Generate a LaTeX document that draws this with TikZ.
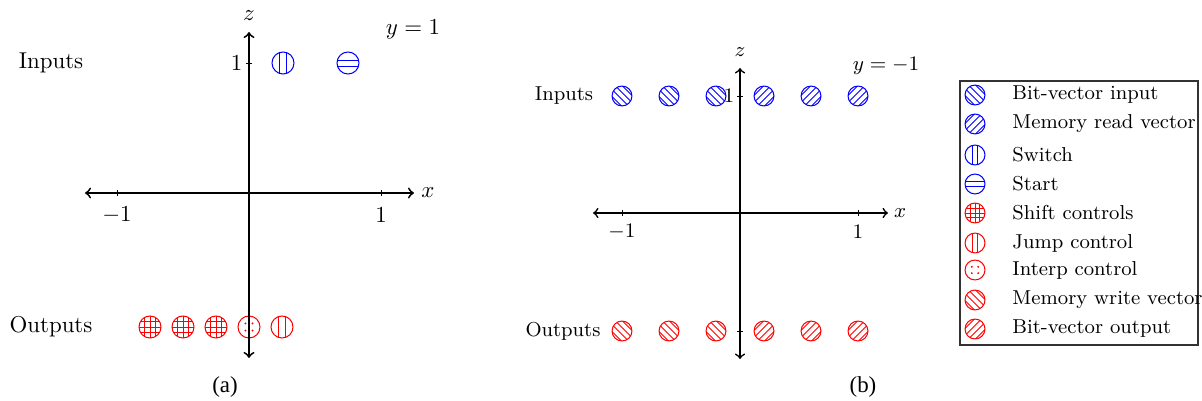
\documentclass[tikz,border=0pt]{standalone}
\usepackage{fontspec}
\newfontfamily\capfont{Liberation Serif}
\newcommand\smallerfont{\fontsize{8.8}{10.5}\selectfont}
\tikzset{
  mk/.style={circle,inner sep=0pt,minimum size=#1,line width=0.45pt},
  mka/.style={mk=9.6pt,/utils/exec={\def\rr{4.8pt}}},
  mkb/.style={mk=8.7pt,/utils/exec={\def\rr{4.35pt}}},
  inb/.style={draw=blue,/utils/exec={\def\sc{blue}}},
  outr/.style={draw=red,/utils/exec={\def\sc{red}}},
  pv/.style={path picture={
    \foreach \f in {-0.29,0.29}
      \draw[draw=\sc,line width=0.4pt] ([xshift=\f*\rr]path picture bounding box.north) -- ([xshift=\f*\rr]path picture bounding box.south);}},
  ph/.style={path picture={
    \foreach \f in {-0.27,0.27}
      \draw[draw=\sc,line width=0.4pt] ([yshift=\f*\rr]path picture bounding box.west) -- ([yshift=\f*\rr]path picture bounding box.east);}},
  pg/.style={path picture={
    \foreach \f in {-0.48,0,0.48}{
      \draw[draw=\sc,line width=0.4pt] ([xshift=\f*\rr]path picture bounding box.north) -- ([xshift=\f*\rr]path picture bounding box.south);
      \draw[draw=\sc,line width=0.4pt] ([yshift=\f*\rr]path picture bounding box.west) -- ([yshift=\f*\rr]path picture bounding box.east);}}},
  pd/.style={path picture={
    \foreach \fx in {-0.32,0.32}
      \foreach \fy in {-0.32,0.32}
        \fill[fill=\sc] ([xshift=\fx*\rr,yshift=\fy*\rr]path picture bounding box.center) circle[radius=0.45pt];}},
  pne/.style={path picture={
    \foreach \f in {-0.75,-0.25,0.25,0.75}
      \draw[draw=\sc,line width=0.4pt]
        ([xshift=\f*0.7071*\rr-\rr,yshift=-\f*0.7071*\rr-\rr]path picture bounding box.center) --
        ([xshift=\f*0.7071*\rr+\rr,yshift=-\f*0.7071*\rr+\rr]path picture bounding box.center);}},
  pnw/.style={path picture={
    \foreach \f in {-0.75,-0.25,0.25,0.75}
      \draw[draw=\sc,line width=0.4pt]
        ([xshift=\f*0.7071*\rr-\rr,yshift=\f*0.7071*\rr+\rr]path picture bounding box.center) --
        ([xshift=\f*0.7071*\rr+\rr,yshift=\f*0.7071*\rr-\rr]path picture bounding box.center);}},
  axa/.style={<->,line width=0.8pt},
  axb/.style={<->,line width=0.7pt},
  tk/.style={line width=0.4pt},
  lbl/.style={inner sep=1pt},
}
\begin{document}
\begin{tikzpicture}[x=0.4366pt,y=-0.4366pt]
\useasboundingbox[fill=white] (0,0) rectangle (1202,401);
% ---------------- panel (a) ----------------
\node[mka,inb,pv] (sw) at (283,63) {};
\node[mka,inb,ph] (st) at (348,63) {};
\node[mka,outr,pg] (sc1) at (150,327) {};
\node[mka,outr,pg] (sc2) at (183,327) {};
\node[mka,outr,pg] (sc3) at (216,327) {};
\node[mka,outr,pd] (ic) at (249,327) {};
\node[mka,outr,pv] (jc) at (282,327) {};
\coordinate (axL) at (85,193);
\coordinate (axR) at (414,193);
\coordinate (azB) at (249,358);
\coordinate (azT) at (249,32);
\draw[axa] (axL) -- (axR);
\draw[axa] (azB) -- (azT);
\draw[tk] (117,190) -- (117,196);
\draw[tk] (381,190) -- (381,196);
\draw[tk] (246,63) -- (252,63);
\node[lbl] (xm1a) at (117,215) {$-1$};
\node[lbl] (xp1a) at (381,215) {$1$};
\node[lbl,anchor=east] (zp1a) at (245,63) {$1$};
\node[lbl] (xla) at (428,193) {$x$};
\node[lbl] (zla) at (249,16) {$z$};
\node[lbl] (ya) at (413,29) {$y=1$};
\node[lbl] (ina) at (51,63) {Inputs};
\node[lbl] (outa) at (51,327) {Outputs};
\node[lbl] (capa) at (225,387) {\capfont (a)};
% ---------------- panel (b) ----------------
\foreach \xx/\nm in {622/i1,669/i2,716/i3}{
  \node[mkb,inb,pnw] (\nm) at (\xx,96) {};
  \node[mkb,outr,pnw] (o\nm) at (\xx,331) {};
}
\foreach \xx/\nm in {764/i4,811/i5,858/i6}{
  \node[mkb,inb,pne] (\nm) at (\xx,96) {};
  \node[mkb,outr,pne] (o\nm) at (\xx,331) {};
}
\coordinate (bxL) at (593,213);
\coordinate (bxR) at (888,213);
\coordinate (bzB) at (740,359);
\coordinate (bzT) at (740,68);
\draw[axb] (bxL) -- (bxR);
\draw[axb] (bzB) -- (bzT);
\draw[tk] (622,210) -- (622,216);
\draw[tk] (858,210) -- (858,216);
\draw[tk] (737,96) -- (743,96);
\draw[tk] (737,331) -- (743,331);
\begin{scope}[font=\smallerfont]
\node[lbl] (xm1b) at (622,232) {$-1$};
\node[lbl] (xp1b) at (858,232) {$1$};
\node[lbl,anchor=east] (zp1b) at (737,96) {$1$};
\node[lbl] (xlb) at (900,213) {$x$};
\node[lbl] (zlb) at (740,52) {$z$};
\node[lbl] (yb) at (886,66) {$y=-1$};
\node[lbl] (inb) at (564,96) {Inputs};
\node[lbl] (outb) at (563,331) {Outputs};
\end{scope}
\node[lbl] (capb) at (863,387) {\capfont (b)};
% ---------------- legend ----------------
\draw[line width=0.5pt,draw=black!80] (960,81) rectangle (1198,345);
\begin{scope}[font=\smallerfont]
\node[mkb,inb,pnw] (l1) at (975,95) {};
\node[mkb,inb,pne] (l2) at (975,124) {};
\node[mkb,inb,pv] (l3) at (975,155) {};
\node[mkb,inb,ph] (l4) at (975,184) {};
\node[mkb,outr,pg] (l5) at (975,213) {};
\node[mkb,outr,pv] (l6) at (975,243) {};
\node[mkb,outr,pd] (l7) at (975,270) {};
\node[mkb,outr,pnw] (l8) at (975,300) {};
\node[mkb,outr,pne] (l9) at (975,329) {};
\node[anchor=west,inner sep=0pt] (t1) at (1012,95) {Bit-vector input};
\node[anchor=west,inner sep=0pt] (t2) at (1012,124) {Memory read vector};
\node[anchor=west,inner sep=0pt] (t3) at (1012,155) {Switch};
\node[anchor=west,inner sep=0pt] (t4) at (1012,184) {Start};
\node[anchor=west,inner sep=0pt] (t5) at (1012,213) {Shift controls};
\node[anchor=west,inner sep=0pt] (t6) at (1012,243) {Jump control};
\node[anchor=west,inner sep=0pt] (t7) at (1012,270) {Interp control};
\node[anchor=west,inner sep=0pt] (t8) at (1012,300) {Memory write vector};
\node[anchor=west,inner sep=0pt] (t9) at (1012,329) {Bit-vector output};
\end{scope}
\end{tikzpicture}
\end{document}
